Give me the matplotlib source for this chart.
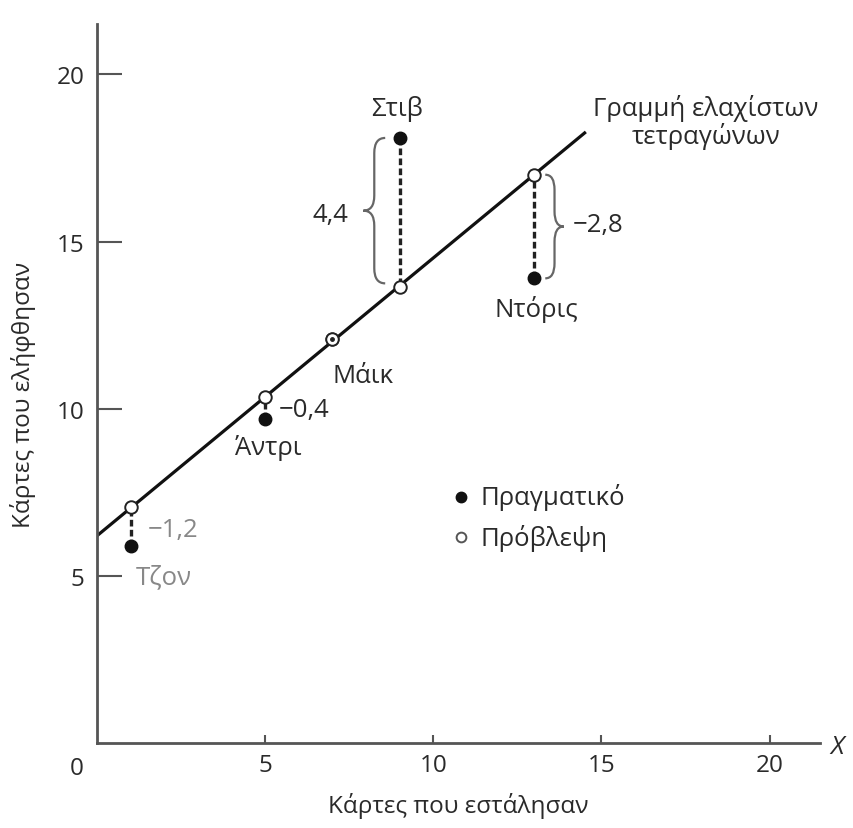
import numpy as np
import matplotlib
matplotlib.use("Agg")
import matplotlib.pyplot as plt
from matplotlib.path import Path
from matplotlib.patches import PathPatch

plt.rcParams['font.family'] = ['Open Sans', 'DejaVu Sans']

names = ['Τζον', 'Άντρι', 'Μάικ', 'Στιβ', 'Ντόρις']
sent = [1, 5, 7, 9, 13]
received = [5.9, 9.7, 12.1, 18.1, 13.9]
predicted = [7.05, 10.35, 12.1, 13.65, 17.0]
residuals = ['−1,2', '−0,4', '', '4,4', '−2,8']

line_x = [0, 14.5]
line_y = [6.2, 18.25]

ticks = [5, 10, 15, 20]

txt = '#2a2a2a'
axc = '#555555'
fs = 18.5


def brace(ax, x0, y1, y2, w, r=0.45, color='#666666'):
    # curly brace, arms at x0, tip at x0 - w
    xm = x0 - w / 2
    xt = x0 - w
    ym = (y1 + y2) / 2
    verts = [(x0, y2), (xm, y2), (xm, y2 - r),
             (xm, ym + r), (xm, ym), (xt, ym),
             (xm, ym), (xm, ym - r),
             (xm, y1 + r), (xm, y1), (x0, y1)]
    codes = [Path.MOVETO, Path.CURVE3, Path.CURVE3,
             Path.LINETO, Path.CURVE3, Path.CURVE3,
             Path.CURVE3, Path.CURVE3,
             Path.LINETO, Path.CURVE3, Path.CURVE3]
    ax.add_patch(PathPatch(Path(verts, codes), fill=False, ec=color, lw=1.6))


fig = plt.figure(figsize=(8.54, 8.29), dpi=100)
ax = fig.add_axes([0.1136, 0.1025, 0.8466, 0.867])
ax.set_xlim(0, 21.5)
ax.set_ylim(0, 21.5)

for s in ['top', 'right']:
    ax.spines[s].set_visible(False)
for s in ['left', 'bottom']:
    ax.spines[s].set_color(axc)
    ax.spines[s].set_linewidth(2)

ax.set_xticks(ticks)
ax.set_yticks(ticks)
ax.tick_params(direction='in', colors=axc, labelcolor=txt, labelsize=17.5, width=1.5)
ax.tick_params(axis='y', length=18, pad=9)
ax.tick_params(axis='x', length=6, pad=7)
ax.text(-0.6, -0.75, '0', ha='center', va='center', fontsize=17.5, color=txt, clip_on=False)
ax.text(22.0, -0.1, 'X', ha='center', va='center', fontsize=18.5, color=txt,
        style='italic', clip_on=False)

ax.set_xlabel('Κάρτες που εστάλησαν', fontsize=17.5, color=txt)
ax.set_ylabel('Κάρτες που ελήφθησαν', fontsize=17.5, color=txt)
ax.xaxis.set_label_coords(0.5, -0.068)
ax.yaxis.set_label_coords(-0.084, 0.485)

# least squares line
ax.plot(line_x, line_y, color='#111111', lw=2.3, zorder=2)

# residual lines
for x, a, p in zip(sent, received, predicted):
    if abs(a - p) > 0.05:
        ax.plot([x, x], [a, p], color='#222222', lw=2.4, ls=(0, (2.0, 1.0)), zorder=3)

ax.plot(sent, received, 'o', color='#111111', ms=9, zorder=4)
ax.plot(sent, predicted, 'o', mfc='white', mec='#222222', mew=1.4, ms=9, zorder=5)
ax.plot(sent[2], predicted[2], 'o', color='#222222', ms=2.5, zorder=6)

# braces
brace(ax, 8.57, 13.75, 18.1, 0.65)
brace(ax, 13.33, 13.9, 17.0, -0.55)

# labels
ax.text(8.93, 19.0, names[3], ha='center', va='center', fontsize=fs, color=txt)
ax.text(6.93, 15.8, residuals[3], ha='center', va='center', fontsize=fs, color=txt)
ax.text(13.05, 13.0, names[4], ha='center', va='center', fontsize=fs, color=txt)
ax.text(14.15, 15.5, residuals[4], ha='left', va='center', fontsize=fs, color=txt)
ax.text(7.9, 11.0, names[2], ha='center', va='center', fontsize=fs, color=txt)
ax.text(5.4, 9.97, residuals[1], ha='left', va='center', fontsize=fs, color=txt)
ax.text(5.1, 8.87, names[1], ha='center', va='center', fontsize=fs, color=txt)
ax.text(1.5, 6.39, residuals[0], ha='left', va='center', fontsize=fs, color='#888888')
ax.text(1.16, 4.96, names[0], ha='left', va='center', fontsize=fs, color='#888888')

ax.text(18.1, 18.6, 'Γραμμή ελαχίστων\nτετραγώνων', ha='center', va='center',
        fontsize=fs, color=txt, linespacing=1.05)

# legend
ax.plot(10.83, 7.37, 'o', color='#111111', ms=7.5)
ax.plot(10.83, 6.15, 'o', mfc='white', mec='#555555', mew=1.4, ms=7)
ax.text(11.4, 7.37, 'Πραγματικό', ha='left', va='center', fontsize=fs, color=txt)
ax.text(11.4, 6.15, 'Πρόβλεψη', ha='left', va='center', fontsize=fs, color=txt)

fig.savefig('out.png', dpi=100)
